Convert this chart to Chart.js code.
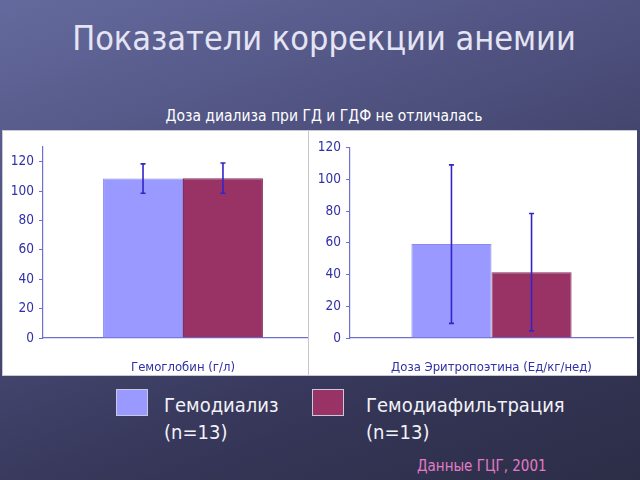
<!DOCTYPE html>
<html><head><meta charset="utf-8">
<script src="https://cdn.jsdelivr.net/npm/chart.js@4/dist/chart.umd.min.js"></script>
<style>
html,body{margin:0;padding:0;}
body{width:640px;height:480px;position:relative;overflow:hidden;
 background:linear-gradient(160deg,#656a9e 0%,#4e517e 35%,#37385b 70%,#2c2d46 100%);
 font-family:"DejaVu Sans Condensed","DejaVu Sans",sans-serif;}
.t{position:absolute;white-space:nowrap;}
#title{left:0;width:648px;top:18px;text-align:center;font-size:34px;color:#e4e4f4;}
#sub{left:0;width:648px;top:107px;text-align:center;font-size:15.5px;color:#ffffff;}
#panel{position:absolute;left:2px;top:130px;width:633px;height:244px;background:#fff;border:1px solid #c9c9d6;}
#c1{position:absolute;left:3px;top:131px;}
#rwrap{position:absolute;left:308px;top:131px;width:328px;height:244px;background:#fff;border-left:1px solid #c8c8c8;}
#c2{position:absolute;left:0;top:0;}
.box{position:absolute;width:30px;height:25px;border:1px solid #c8c8e0;}
.lt{position:absolute;font-size:20px;line-height:27px;color:#f2f2f8;white-space:nowrap;}
#src{left:417px;top:457px;font-size:15px;color:#e27cc6;}
</style></head><body>
<div class="t" id="title">Показатели коррекции анемии</div>
<div class="t" id="sub">Доза диализа при ГД и ГДФ не отличалась</div>
<div id="panel"></div>
<canvas id="c1" width="320" height="244"></canvas>
<div id="rwrap"><canvas id="c2" width="328" height="244"></canvas></div>
<div id="legend"></div>
<div class="t" id="src">Данные ГЦГ, 2001</div>
<script>
const categoriesHb = ['Гемоглобин (г/л)'];
const categoriesEpo = ['Доза Эритропоэтина (Ед/кг/нед)'];
const seriesNames = ['Гемодиализ', 'Гемодиафильтрация'];
const seriesN = ['(n=13)', '(n=13)'];
const seriesColors = ['#9999ff', '#993366'];
const hbMeans = [108.5, 108.8];
const hbSD = [10, 10.3];
const epoMeans = [59.2, 41.5];
const epoSD = [50, 37];
const yTicks = [0, 20, 40, 60, 80, 100, 120];

const FONT = '"DejaVu Sans Condensed","DejaVu Sans",sans-serif';
const AXIS = '#6f6fcf';
const TXT = '#3030a8';

// legend (HTML)
const leg = document.getElementById('legend');
const legX = [[116, 164], [312, 366]];
seriesNames.forEach((n, i) => {
  const b = document.createElement('div');
  b.className = 'box';
  b.style.left = legX[i][0] + 'px'; b.style.top = '389px';
  b.style.background = seriesColors[i];
  leg.appendChild(b);
  const t = document.createElement('div');
  t.className = 'lt';
  t.style.left = legX[i][1] + 'px'; t.style.top = '392px';
  t.innerHTML = n + '<br>' + seriesN[i];
  leg.appendChild(t);
});

const errPlugin = {
  id: 'err',
  afterDatasetsDraw(chart) {
    const ctx = chart.ctx, y = chart.scales.y;
    chart.data.datasets.forEach((ds, i) => {
      const meta = chart.getDatasetMeta(i);
      meta.data.forEach((el, j) => {
        const m = ds.data[j], s = ds.sd[j];
        const x = el.x, y1 = y.getPixelForValue(m + s), y2 = y.getPixelForValue(m - s);
        ctx.save();
        ctx.strokeStyle = '#3325c8'; ctx.lineWidth = 1.6;
        ctx.beginPath();
        ctx.moveTo(x, y1); ctx.lineTo(x, y2);
        ctx.moveTo(x - 2.5, y1); ctx.lineTo(x + 2.5, y1);
        ctx.moveTo(x - 2.5, y2); ctx.lineTo(x + 2.5, y2);
        ctx.stroke();
        ctx.restore();
      });
    });
  }
};

function makeChart(id, cats, means, sds, yMax, padTop, padRight, yWidth, catPct) {
  return new Chart(document.getElementById(id), {
    type: 'bar',
    data: {
      labels: cats,
      datasets: seriesNames.map((n, i) => ({
        label: n,
        data: [means[i]],
        sd: [sds[i]],
        backgroundColor: seriesColors[i],
        borderColor: i === 0 ? '#8a8af0' : '#8a2d5b',
        borderWidth: 1,
        categoryPercentage: catPct,
        barPercentage: 1
      }))
    },
    options: {
      responsive: false, animation: false,
      layout: { padding: { top: padTop, right: padRight, left: 0, bottom: 0 } },
      plugins: { legend: { display: false }, tooltip: { enabled: false } },
      scales: {
        x: {
          grid: { display: false },
          border: { display: true, color: AXIS, width: 1.2 },
          ticks: { color: TXT, font: { family: FONT, size: 13 }, padding: 14 },
          afterFit(s) { s.height = 37; }
        },
        y: {
          min: 0, max: yMax,
          afterBuildTicks(s) { s.ticks = yTicks.map(v => ({ value: v })); },
          grid: { drawOnChartArea: false, drawTicks: true, tickLength: 4, color: AXIS },
          border: { display: true, color: AXIS, width: 1.2 },
          ticks: { color: TXT, font: { family: FONT, size: 13.5 }, padding: 5 },
          afterFit(s) { s.width = yWidth; }
        }
      }
    },
    plugins: [errPlugin]
  });
}

makeChart('c1', categoriesHb, hbMeans, hbSD, 130, 16, 0, 40, 0.571);
makeChart('c2', categoriesEpo, epoMeans, epoSD, 120, 16.7, 4, 41, 0.566);
</script>
</body></html>
